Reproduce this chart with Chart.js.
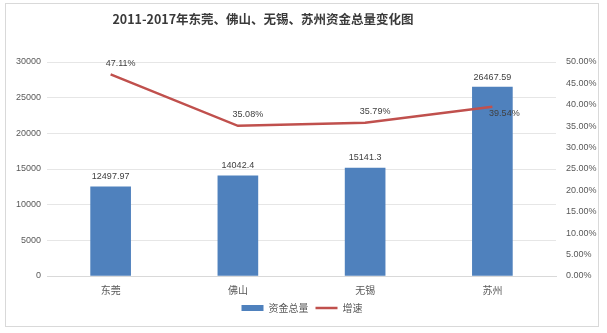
<!DOCTYPE html>
<html>
<head>
<meta charset="utf-8">
<script src="https://cdn.jsdelivr.net/npm/chart.js@4.4.0/dist/chart.umd.min.js"></script>
<style>
  body { margin: 0; background: #fff; }
  #box { position: absolute; left: 5px; top: 3px; width: 592px; height: 322px; border: 1px solid #d9d9d9; }
</style>
</head>
<body>
<div id="box"><canvas id="myChart" width="592" height="322"></canvas></div>
<script>
const cities = ['东莞', '佛山', '无锡', '苏州'];
const totals = [12497.97, 14042.4, 15141.3, 26467.59];
const growth = [47.11, 35.08, 35.79, 39.54];
const totalLabels = ['12497.97', '14042.4', '15141.3', '26467.59'];
const chartTitle = '2011-2017年东莞、佛山、无锡、苏州资金总量变化图';

const FONT = '"Liberation Sans", "Noto Sans CJK SC", sans-serif';

// title sits a bit left of centre in the original, so draw it here
const titleText = {
    id: 'titleText',
    afterDraw(chart) {
        const ctx = chart.ctx;
        ctx.save();
        ctx.font = 'bold 12.5px "Noto Sans CJK SC", sans-serif';
        ctx.fillStyle = '#3a3a3a';
        ctx.textAlign = 'center';
        ctx.textBaseline = 'middle';
        ctx.fillText(chartTitle, 257, 15);
        ctx.restore();
    }
};

// value labels drawn next to bars and line points
const valueLabels = {
    id: 'valueLabels',
    afterDatasetsDraw(chart) {
        const ctx = chart.ctx;
        ctx.save();
        ctx.font = '9px ' + FONT;
        ctx.fillStyle = '#404040';
        ctx.textAlign = 'center';
        ctx.textBaseline = 'middle';
        chart.getDatasetMeta(0).data.forEach((bar, i) => {
            ctx.fillText(totalLabels[i], bar.x, bar.y - 10);
        });
        chart.getDatasetMeta(1).data.forEach((pt, i) => {
            if (i === 3) {
                ctx.fillText(growth[i].toFixed(2) + '%', pt.x + 12, pt.y + 7);
            } else {
                ctx.fillText(growth[i].toFixed(2) + '%', pt.x + 10, pt.y - 11);
            }
        });
        ctx.restore();
    }
};

const data = {
    labels: cities,
    datasets: [{
        type: 'bar',
        label: '资金总量',
        data: totals,
        backgroundColor: '#4f81bd',
        barThickness: 40,
        yAxisID: 'y',
        pointStyle: 'rect',
        order: 2
    }, {
        type: 'line',
        label: '增速',
        data: growth,
        borderColor: '#c0504d',
        borderWidth: 2.5,
        pointRadius: 0,
        pointStyle: 'line',
        tension: 0,
        yAxisID: 'y1',
        order: 1
    }]
};

const config = {
    data: data,
    options: {
        responsive: false,
        animation: false,
        layout: { padding: { top: 58, bottom: 3, left: 0, right: 0 } },
        plugins: {
            title: { display: false },
            legend: {
                position: 'bottom',
                labels: {
                    usePointStyle: true,
                    pointStyleWidth: 22,
                    boxHeight: 6,
                    color: '#595959',
                    font: { family: '"Noto Sans CJK SC", sans-serif', size: 10 },
                    padding: 7,
                    sort: (a, b) => a.datasetIndex - b.datasetIndex
                }
            },
            tooltip: { enabled: false }
        },
        scales: {
            x: {
                grid: { display: false },
                border: { color: '#d9d9d9' },
                ticks: { color: '#595959', font: { family: '"Noto Sans CJK SC", sans-serif', size: 10 }, padding: 0 }
            },
            y: {
                position: 'left',
                min: 0,
                max: 30000,
                ticks: {
                    stepSize: 5000,
                    color: '#595959',
                    font: { family: FONT, size: 9 },
                    padding: 6,
                    callback: v => String(v)
                },
                grid: { color: '#e6e6e6', drawTicks: false },
                border: { display: false },
                afterFit(axis) { axis.width = 41; }
            },
            y1: {
                position: 'right',
                min: 0,
                max: 50,
                ticks: {
                    stepSize: 5,
                    color: '#595959',
                    font: { family: FONT, size: 9 },
                    padding: 10,
                    callback: v => v.toFixed(2) + '%'
                },
                grid: { display: false, drawTicks: false },
                border: { display: false },
                afterFit(axis) { axis.width = 42; }
            }
        }
    },
    plugins: [valueLabels, titleText]
};

const myChart = new Chart(
    document.getElementById('myChart'),
    config
);
</script>
</body>
</html>
